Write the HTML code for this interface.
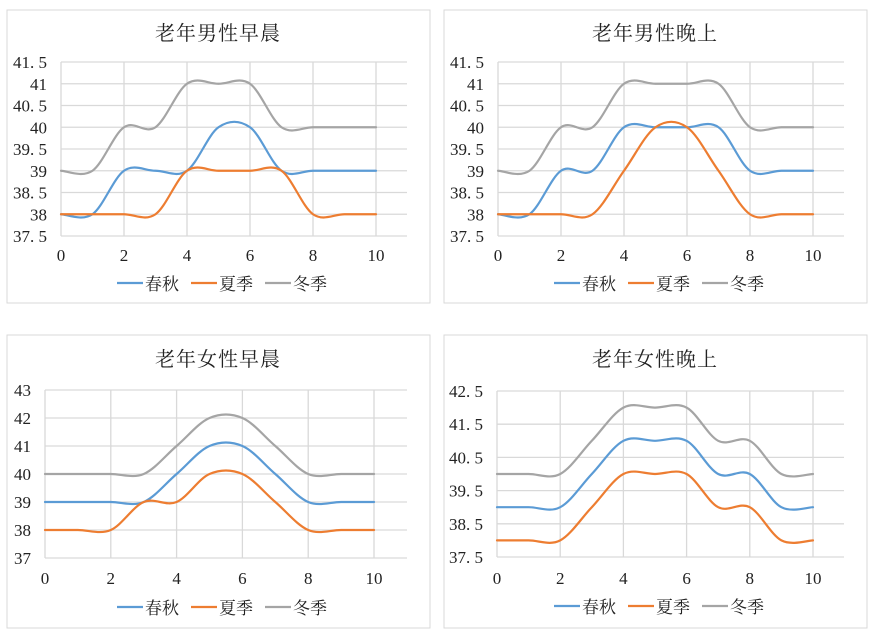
<!DOCTYPE html>
<html><head><meta charset="utf-8"><style>
body{margin:0;background:#fff;width:873px;height:633px;overflow:hidden}
svg{display:block}
text{font-family:"Liberation Serif","Noto Serif CJK SC",serif;fill:#222}
</style></head><body>
<svg id="s" width="873" height="633"></svg>
<script>
const xValues=[0,1,2,3,4,5,6,7,8,9,10];
const xTicks=[0,2,4,6,8,10];
const seriesNames=["春秋","夏季","冬季"];
const colors=["#5b9bd5","#ed7d31","#a5a5a5"];
// chart 1: 老年男性早晨
const c1Title="老年男性早晨";
const c1Spring=[38,38,39,39,39,40,40,39,39,39,39];
const c1Summer=[38,38,38,38,39,39,39,39,38,38,38];
const c1Winter=[39,39,40,40,41,41,41,40,40,40,40];
const c1Ticks=["37.5","38","38.5","39","39.5","40","40.5","41","41.5"];
// chart 2: 老年男性晚上
const c2Title="老年男性晚上";
const c2Spring=[38,38,39,39,40,40,40,40,39,39,39];
const c2Summer=[38,38,38,38,39,40,40,39,38,38,38];
const c2Winter=[39,39,40,40,41,41,41,41,40,40,40];
const c2Ticks=["37.5","38","38.5","39","39.5","40","40.5","41","41.5"];
// chart 3: 老年女性早晨
const c3Title="老年女性早晨";
const c3Spring=[39,39,39,39,40,41,41,40,39,39,39];
const c3Summer=[38,38,38,39,39,40,40,39,38,38,38];
const c3Winter=[40,40,40,40,41,42,42,41,40,40,40];
const c3Ticks=["37","38","39","40","41","42","43"];
// chart 4: 老年女性晚上
const c4Title="老年女性晚上";
const c4Spring=[39,39,39,40,41,41,41,40,40,39,39];
const c4Summer=[38,38,38,39,40,40,40,39,39,38,38];
const c4Winter=[40,40,40,41,42,42,42,41,41,40,40];
const c4Ticks=["37.5","38.5","39.5","40.5","41.5","42.5"];

const NS="http://www.w3.org/2000/svg";
const svg=document.getElementById('s');
function el(tag,attrs,parent){const e=document.createElementNS(NS,tag);for(const k in attrs)e.setAttribute(k,attrs[k]);(parent||svg).appendChild(e);return e;}

function chart(L,title,series,ticks,key){
  const g=el('g',{});
  
  
  const box=el('rect',{x:L.bx,y:L.by,width:423,height:293,fill:'#fff',stroke:'#d9d9d9','stroke-width':1},g);
  
  
  const t=el('text',{x:L.bx+211,y:L.ty,'text-anchor':'middle','font-size':20,'letter-spacing':1},g);
  t.textContent=title;
  
  
  const ymin=parseFloat(ticks[0]),ymax=parseFloat(ticks[ticks.length-1]);
  const X=v=>L.x0+(v-0)/(10-0)*(L.x10-L.x0);
  const Y=v=>L.yb-(v-ymin)/(ymax-ymin)*(L.yb-L.yt);
  ticks.forEach(tk=>{
    const v=parseFloat(tk);
    const gl=el('line',{x1:L.x0,x2:L.xr,y1:Y(v),y2:Y(v),stroke:'#d9d9d9','stroke-width':1.3},g);
    
    
    const lt=el('text',{x:L.x0-14,y:Y(v)+6,'text-anchor':'end','font-size':17},g);
    lt.textContent=tk.replace('.','. ');
    
    
  });
  xTicks.forEach(v=>{
    const gl=el('line',{x1:X(v),x2:X(v),y1:L.yt,y2:L.yb,stroke:'#d9d9d9','stroke-width':1.3},g);
    
    
    const lt=el('text',{x:X(v),y:L.xl,'text-anchor':'middle','font-size':17},g);
    lt.textContent=v;
    
    
  });
  series.forEach((vals,si)=>{
    const pts=vals.map((v,i)=>[X(xValues[i]),Y(v)]);
    let d='M'+pts[0][0]+','+pts[0][1];
    for(let i=0;i<pts.length-1;i++){
      const p0=pts[Math.max(i-1,0)],p1=pts[i],p2=pts[i+1],p3=pts[Math.min(i+2,pts.length-1)];
      const c1=[p1[0]+(p2[0]-p0[0])/6,p1[1]+(p2[1]-p0[1])/6];
      const c2=[p2[0]-(p3[0]-p1[0])/6,p2[1]-(p3[1]-p1[1])/6];
      d+=' C'+c1+' '+c2+' '+p2;
    }
    const p=el('path',{d:d,fill:'none',stroke:colors[si],'stroke-width':2.2,'stroke-linecap':'round'},g);
    
    
    const lx=L.bx+110+si*74;
    const ll=el('line',{x1:lx,x2:lx+26,y1:L.ly,y2:L.ly,stroke:colors[si],'stroke-width':2.2},g);
    
    
    const lt=el('text',{x:lx+28,y:L.ly+7,'font-size':17},g);
    lt.textContent=seriesNames[si];
    
    
  });
}
chart({bx:7,by:10,ty:40,x0:61,x10:376,xr:407,yt:62,yb:236,xl:261,ly:283},c1Title,[c1Spring,c1Summer,c1Winter],c1Ticks,'male-morning');
chart({bx:444,by:10,ty:40,x0:498,x10:813,xr:844,yt:62,yb:236,xl:261,ly:283},c2Title,[c2Spring,c2Summer,c2Winter],c2Ticks,'male-evening');
chart({bx:7,by:335,ty:366,x0:45,x10:374,xr:407,yt:390,yb:558,xl:584,ly:607},c3Title,[c3Spring,c3Summer,c3Winter],c3Ticks,'female-morning');
chart({bx:444,by:335,ty:366,x0:497,x10:813,xr:844,yt:391,yb:557,xl:584,ly:606},c4Title,[c4Spring,c4Summer,c4Winter],c4Ticks,'female-evening');
</script>
</body></html>
